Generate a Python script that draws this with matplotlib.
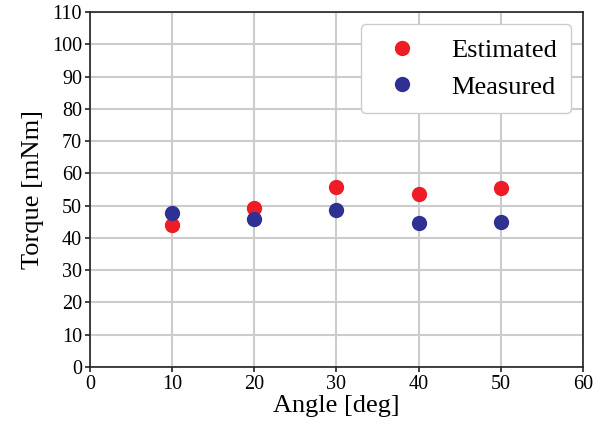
import matplotlib
matplotlib.use("Agg")
import matplotlib.pyplot as plt

plt.rcParams['font.family'] = ['Liberation Serif', 'DejaVu Serif']
plt.rcParams['mathtext.fontset'] = 'stix'

angle = [10, 20, 30, 40, 50]
estimated = [44.0, 49.2, 55.7, 53.6, 55.5]
measured = [47.6, 45.8, 48.7, 44.7, 45.0]

fig = plt.figure(figsize=(6.03, 4.28), dpi=100)
ax = fig.add_axes([0.149, 0.1425, 0.818, 0.8295])

ax.plot(angle, estimated, 'o', color='#ee1c25', markersize=10, label='Estimated', zorder=3)
ax.plot(angle, measured, 'o', color='#2e3192', markersize=10, label='Measured', zorder=3)

ax.set_xlim(0, 60)
ax.set_ylim(0, 110)
ax.set_xticks(range(0, 61, 10))
ax.set_yticks(range(0, 111, 10))
ax.grid(True, color='#cccccc', linewidth=1.5)
ax.set_axisbelow(True)
ax.tick_params(labelsize=14.5, length=3.5, width=1.2, color='#222222', pad=2)
for s in ax.spines.values():
    s.set_color('#222222')
    s.set_linewidth(1.2)

ax.set_xlabel('Angle [deg]', fontsize=19, labelpad=1)
ax.set_ylabel('Torque [mNm]', fontsize=19, labelpad=6)

leg = ax.legend(loc='upper right', fontsize=19, handletextpad=0.85, borderpad=0.55,
                labelspacing=0.5, framealpha=1, edgecolor='#cccccc',
                handlelength=2.0, borderaxespad=0.45)

fig.savefig('out.png', dpi=100)
